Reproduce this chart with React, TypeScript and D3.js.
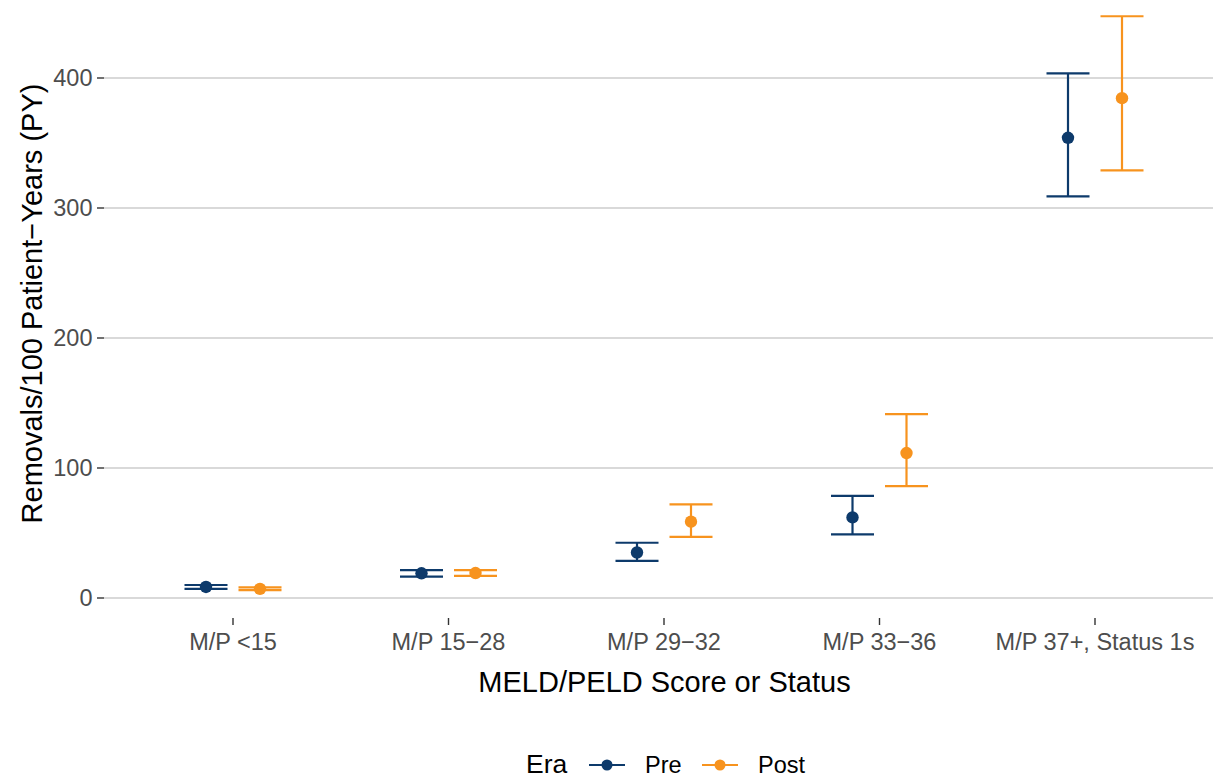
import React from "react";
import * as d3 from "d3";

const categories = ["M/P <15", "M/P 15\u221228", "M/P 29\u221232", "M/P 33\u221236", "M/P 37+, Status 1s"];
const eras = ["Pre", "Post"];
const preRate = [8.5, 19, 35, 62, 354];
const preLow = [7, 16.5, 28.5, 49, 309];
const preHigh = [10, 21.5, 42.5, 78.5, 403.5];
const postRate = [7, 19.2, 58.7, 111.5, 384.5];
const postLow = [6, 17, 47, 86, 329];
const postHigh = [8.2, 21.5, 72, 141.5, 447.5];
const yTicks = [0, 100, 200, 300, 400];

const colors: Record<string, string> = { Pre: "#0d3a6b", Post: "#f7931e" };
const FONT = "'Liberation Sans', Arial, Helvetica, sans-serif";

export default function App() {
  const W = 1213, H = 779;
  const x = d3.scalePoint<string>().domain(categories).range([233, 1095]);
  const y = d3.scaleLinear().domain([0, 400]).range([598, 78]);
  const dodge = d3.scaleBand<string>().domain(eras).range([-54, 54]).padding(0);
  const capHalf = 21.5;
  const series = [
    { era: "Pre", rate: preRate, lo: preLow, hi: preHigh },
    { era: "Post", rate: postRate, lo: postLow, hi: postHigh },
  ];
  const tickFs = 23.5;
  const titleFs = 29;
  return (
    <svg width={W} height={H} style={{ position: "absolute", left: 0, top: 0, background: "#fff" }} fontFamily={FONT}>
      {yTicks.map((t) => (
        <g key={t}>
          <line x1={104} x2={1213} y1={y(t)} y2={y(t)} stroke="#d9d9d9" strokeWidth={1.8} />
          <line x1={97} x2={104} y1={y(t)} y2={y(t)} stroke="#333" strokeWidth={1.4} />
          <text x={92.5} y={y(t)} dy="0.35em" textAnchor="end" fontSize={tickFs} fill="#4d4d4d">{t}</text>
        </g>
      ))}
      {categories.map((c) => (
        <g key={c}>
          <line x1={x(c)!} x2={x(c)!} y1={618} y2={625} stroke="#333" strokeWidth={1.4} />
          <text x={x(c)!} y={650} textAnchor="middle" fontSize={tickFs} fill="#4d4d4d">{c}</text>
        </g>
      ))}
      {series.map((s) => {
        const off = dodge(s.era)! + dodge.bandwidth() / 2;
        const col = colors[s.era];
        return (
          <g key={s.era}>
            {categories.map((c, i) => {
              const cx = x(c)! + off;
              return (
                <g key={c}>
                  <line x1={cx} x2={cx} y1={y(s.lo[i])} y2={y(s.hi[i])} stroke={col} strokeWidth={2.2} />
                  <line x1={cx - capHalf} x2={cx + capHalf} y1={y(s.lo[i])} y2={y(s.lo[i])} stroke={col} strokeWidth={2.2} />
                  <line x1={cx - capHalf} x2={cx + capHalf} y1={y(s.hi[i])} y2={y(s.hi[i])} stroke={col} strokeWidth={2.2} />
                  <circle cx={cx} cy={y(s.rate[i])} r={6.2} fill={col} />
                </g>
              );
            })}
          </g>
        );
      })}
      <text x={664.5} y={692} textAnchor="middle" fontSize={titleFs} fill="#000">MELD/PELD Score or Status</text>
      <text transform={`translate(41.5,303.5) rotate(-90)`} textAnchor="middle" fontSize={titleFs} fill="#000">Removals/100 Patient−Years (PY)</text>
      <g>
        <text x={526} y={773} fontSize={26.5} fill="#000">Era</text>
        {[{ e: "Pre", lx: 589, tx: 645 }, { e: "Post", lx: 702, tx: 758 }].map((k) => (
          <g key={k.e}>
            <line x1={k.lx} x2={k.lx + 36} y1={765} y2={765} stroke={colors[k.e]} strokeWidth={2.2} />
            <circle cx={k.lx + 18} cy={765} r={5.5} fill={colors[k.e]} />
            <text x={k.tx} y={773} fontSize={tickFs} fill="#000">{k.e}</text>
          </g>
        ))}
      </g>
    </svg>
  );
}
